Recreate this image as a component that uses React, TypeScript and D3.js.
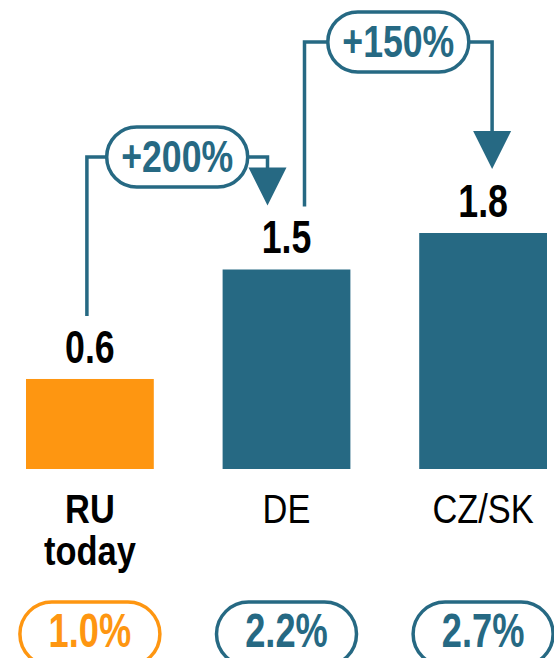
import React, { useEffect, useRef } from "react";
import * as d3 from "d3";

// chart data
const categories = ["RU", "DE", "CZ/SK"];
const categorySubLabels = ["today", "", ""];
const values = [0.6, 1.5, 1.8];
const shareLabels = ["1.0%", "2.2%", "2.7%"];
const growthLabels = ["+200%", "+150%"];

const ORANGE = "#FE9611";
const BLUE = "#266983";
const FONT = "'Liberation Sans', Arial, sans-serif";

const App = () => {
  const chartRef = useRef<SVGSVGElement>(null);

  const drawChart = () => {
    d3.select(chartRef.current).selectAll("*").remove();

    const width = 554;
    const height = 658;
    const baseline = 469;

    const svg = d3.select(chartRef.current).attr("width", width).attr("height", height);

    const x = d3.scaleBand().domain(categories).range([26, 547]).paddingInner(0.35).paddingOuter(0);
    const y = d3.scaleLinear().domain([-0.14, 1.8]).range([baseline, 233]);
    const cx = (c: string) => (x(c) as number) + x.bandwidth() / 2;
    const color = (i: number) => (i === 0 ? ORANGE : BLUE);

    // squeezed text helper (the original uses a narrow font)
    const label = (g, tx, ty, text, size, weight, fill, sx) =>
      g
        .append("g")
        .attr("transform", `translate(${tx},${ty}) scale(${sx},1)`)
        .append("text")
        .attr("text-anchor", "middle")
        .attr("font-family", FONT)
        .attr("font-size", size)
        .attr("font-weight", weight)
        .attr("fill", fill)
        .text(text);

    // bars
    svg
      .selectAll(".bar")
      .data(values)
      .join("rect")
      .attr("class", "bar")
      .attr("x", (d, i) => x(categories[i]) as number)
      .attr("y", (d) => y(d))
      .attr("width", x.bandwidth())
      .attr("height", (d) => baseline - y(d))
      .attr("fill", (d, i) => color(i));

    // value labels + category labels
    values.forEach((v, i) => {
      const c = categories[i];
      label(svg, cx(c), y(v) - 16, d3.format(".1f")(v), 47, "bold", "#000", 0.76);
      label(svg, cx(c), 523, c, 41, i === 0 ? "bold" : "normal", "#000", 0.84);
      if (categorySubLabels[i]) label(svg, cx(c), 565, categorySubLabels[i], 41, "bold", "#000", 0.84);
    });

    // share pills at the bottom
    const pillW = 140;
    shareLabels.forEach((s, i) => {
      const c = categories[i];
      svg
        .append("rect")
        .attr("x", cx(c) - pillW / 2)
        .attr("y", 602)
        .attr("width", pillW)
        .attr("height", 64)
        .attr("rx", 32)
        .attr("fill", "#fff")
        .attr("stroke", color(i))
        .attr("stroke-width", 3.5);
      label(svg, cx(c), 647, s, 49, "bold", color(i), 0.74);
    });

    // growth arrows between bars
    const startDx = [-3, 18];
    const endDx = [-19, 9];
    const levelY = [157, 42];
    const triW = 38;
    const triH = 38;
    growthLabels.forEach((g, i) => {
      const from = categories[i];
      const to = categories[i + 1];
      const x0 = cx(from) + startDx[i];
      const x1 = cx(to) + endDx[i];
      const y0 = y(values[i]) - 63;
      const tipY = y(values[i + 1]) - 64;
      const ly = levelY[i];

      const line = d3.line();
      svg
        .append("path")
        .attr("d", line([[x0, y0], [x0, ly], [x1, ly], [x1, tipY - triH + 2]]))
        .attr("fill", "none")
        .attr("stroke", BLUE)
        .attr("stroke-width", 3.5);

      svg
        .append("path")
        .attr("d", line([[x1 - triW / 2, tipY - triH], [x1 + triW / 2, tipY - triH], [x1, tipY]]) + "Z")
        .attr("fill", BLUE);

      const pw = 141;
      const ph = 60;
      const pcx = (x0 + x1) / 2;
      svg
        .append("rect")
        .attr("x", pcx - pw / 2)
        .attr("y", ly - ph / 2)
        .attr("width", pw)
        .attr("height", ph)
        .attr("rx", ph / 2)
        .attr("fill", "#fff")
        .attr("stroke", BLUE)
        .attr("stroke-width", 3.5);
      label(svg, pcx, ly + 15, g, 44, "bold", BLUE, 0.81);
    });
  };

  useEffect(() => {
    drawChart();
  }, []);

  return <svg ref={chartRef} style={{ position: "absolute", left: 0, top: 0, display: "block" }}></svg>;
};

export default App;
